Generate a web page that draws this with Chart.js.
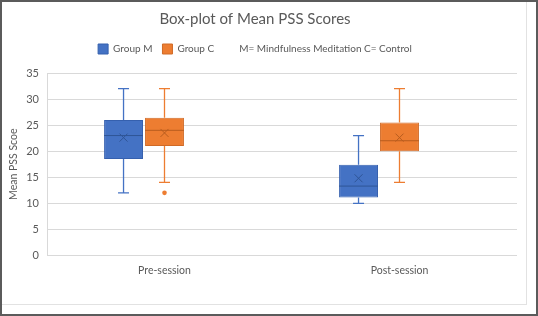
<!DOCTYPE html>
<html>
<head>
<meta charset="utf-8">
<script src="https://cdn.jsdelivr.net/npm/chart.js@4.4.0/dist/chart.umd.min.js"></script>
<style>
  html, body { margin: 0; padding: 0; background: #fff; }
  #outer { position: absolute; left: 0; top: 0; width: 538px; height: 316px; box-sizing: border-box; border: 2px solid #5b5b5b; background: #fff; }
  #inner { position: absolute; left: 0; top: 0; width: 524px; height: 302px; border-right: 1px solid #e2e2e2; border-bottom: 1px solid #e2e2e2; overflow: hidden; }
  #chart { position: absolute; left: -10px; top: 1px; }
</style>
</head>
<body>
<div id="outer">
  <div id="inner">
    <canvas id="chart" width="534" height="301"></canvas>
  </div>
</div>
<script>
// categories and series
const sessions = ['Pre-session', 'Post-session'];
const groupLabels = ['Group M', 'Group C'];
const noteLabel = 'M= Mindfulness Meditation C= Control';

const mMin = [12, 10];
const mQ1 = [18.5, 11.1];
const mMedian = [23, 13.3];
const mQ3 = [26, 17.4];
const mMax = [32, 23];
const mMean = [22.6, 14.8];
const mOutliers = [[], []];

const cMin = [14, 14];
const cQ1 = [21, 20];
const cMedian = [24, 22];
const cQ3 = [26.4, 25.5];
const cMax = [32, 32];
const cMean = [23.5, 22.6];
const cOutliers = [[12], []];

const yTicks = [0, 5, 10, 15, 20, 25, 30, 35];

const stats = [
    { min: mMin, q1: mQ1, median: mMedian, q3: mQ3, max: mMax, mean: mMean, outliers: mOutliers, line: '#4472C4', dark: '#2F5597' },
    { min: cMin, q1: cQ1, median: cMedian, q3: cQ3, max: cMax, mean: cMean, outliers: cOutliers, line: '#ED7D31', dark: '#B85C1E' }
];

const FONT = 'Lato, "Liberation Sans", sans-serif';
const GREY = '#595959';

// whiskers, median, mean and outliers on top of the floating bars
const boxExtras = {
    id: 'boxExtras',
    afterDatasetsDraw(chart) {
        const ctx = chart.ctx;
        const y = chart.scales.y;
        stats.forEach(function(s, i){
            const meta = chart.getDatasetMeta(i);
            meta.data.forEach(function(bar, j){
                const x = bar.x;
                const half = bar.width / 2;
                const cap = 5.5;
                ctx.save();
                ctx.strokeStyle = s.line;
                ctx.lineWidth = 1.3;
                ctx.beginPath();
                ctx.moveTo(x, y.getPixelForValue(s.q3[j]));
                ctx.lineTo(x, y.getPixelForValue(s.max[j]));
                ctx.moveTo(x, y.getPixelForValue(s.q1[j]));
                ctx.lineTo(x, y.getPixelForValue(s.min[j]));
                ctx.moveTo(x - cap, y.getPixelForValue(s.max[j]));
                ctx.lineTo(x + cap, y.getPixelForValue(s.max[j]));
                ctx.moveTo(x - cap, y.getPixelForValue(s.min[j]));
                ctx.lineTo(x + cap, y.getPixelForValue(s.min[j]));
                ctx.stroke();

                // median
                ctx.strokeStyle = s.dark;
                ctx.lineWidth = 1;
                ctx.beginPath();
                const my = y.getPixelForValue(s.median[j]);
                ctx.moveTo(x - half, my);
                ctx.lineTo(x + half, my);
                ctx.stroke();

                // mean marker
                const ay = y.getPixelForValue(s.mean[j]);
                const r = 4;
                ctx.beginPath();
                ctx.moveTo(x - r, ay - r);
                ctx.lineTo(x + r, ay + r);
                ctx.moveTo(x + r, ay - r);
                ctx.lineTo(x - r, ay + r);
                ctx.stroke();

                // outliers
                ctx.fillStyle = s.line;
                s.outliers[j].forEach(function(v){
                    ctx.beginPath();
                    ctx.arc(x, y.getPixelForValue(v), 2.3, 0, Math.PI * 2);
                    ctx.fill();
                });
                ctx.restore();
            });
        });
    }
};

const ctx = document.getElementById('chart').getContext('2d');
new Chart(ctx, {
    type: 'bar',
    data: {
        labels: sessions,
        datasets: [
            {
                label: groupLabels[0],
                data: mQ1.map(function(v, i){ return [v, mQ3[i]]; }),
                backgroundColor: '#4472C4',
                borderColor: '#3560AE',
                borderWidth: 1,
                borderSkipped: false
            },
            {
                label: groupLabels[1],
                data: cQ1.map(function(v, i){ return [v, cQ3[i]]; }),
                backgroundColor: '#ED7D31',
                borderColor: '#D06A26',
                borderWidth: 1,
                borderSkipped: false
            },
            {
                label: noteLabel,
                data: [null, null],
                backgroundColor: 'rgba(0,0,0,0)',
                borderColor: 'rgba(0,0,0,0)',
                borderWidth: 0
            }
        ]
    },
    options: {
        responsive: false,
        animation: false,
        categoryPercentage: 0.523,
        barPercentage: 0.95,
        layout: { padding: { left: 1, right: 9, top: 0, bottom: 18 } },
        scales: {
            x: {
                grid: { display: false, drawTicks: false },
                border: { display: false },
                ticks: { color: GREY, font: { family: FONT, size: 10.5 }, padding: 9 }
            },
            y: {
                min: 0,
                max: 35,
                afterFit: function(scale){ scale.width = 54; },
                afterBuildTicks: function(scale){ scale.ticks = yTicks.map(function(v){ return { value: v }; }); },
                grid: { color: '#d9d9d9', drawTicks: false },
                border: { display: true, color: '#d9d9d9' },
                ticks: { color: GREY, font: { family: FONT, size: 11 }, padding: 8 },
                title: {
                    display: true,
                    text: 'Mean PSS Scoe',
                    color: GREY,
                    font: { family: FONT, size: 10.5 },
                    padding: { top: 14, bottom: 0 }
                }
            }
        },
        plugins: {
            title: {
                display: true,
                text: 'Box-plot of Mean PSS Scores',
                color: GREY,
                font: { family: FONT, size: 15, weight: 'normal' },
                padding: { top: 7, bottom: 6 }
            },
            // empty subtitle below the legend, used only as a spacer
            subtitle: {
                display: true,
                text: '',
                weight: 500,
                font: { size: 8, lineHeight: 1 },
                padding: { top: 1, bottom: 0 }
            },
            legend: {
                labels: {
                    color: GREY,
                    font: { family: FONT, size: 10 },
                    boxWidth: 10,
                    boxHeight: 10,
                    padding: 10
                }
            },
            tooltip: { enabled: false }
        }
    },
    plugins: [boxExtras]
});
</script>
</body>
</html>
